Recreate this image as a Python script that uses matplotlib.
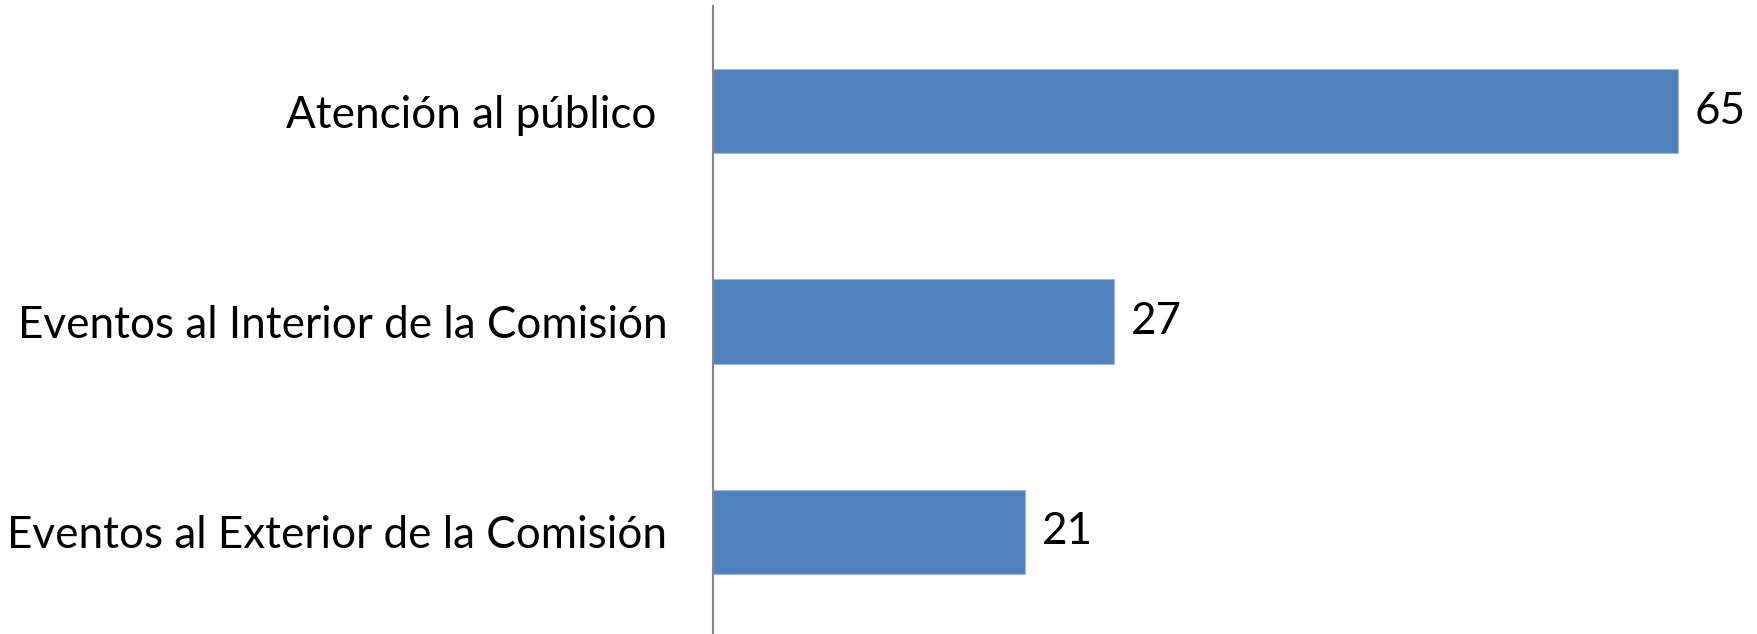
import matplotlib
matplotlib.use('Agg')
import matplotlib.pyplot as plt

plt.rcParams.update({'font.family': ['Lato', 'DejaVu Sans']})

categories = ['Atención al público ',
              'Eventos al Interior de la Comisión',
              'Eventos al Exterior de la Comisión']
values = [65, 27, 21]

W, H = 1758, 634
fig = plt.figure(figsize=(W / 100, H / 100), dpi=100)
# axes placed in pixel terms: x=0 at 713 px, 65 at 1678 px
x0, xmax = 713, 70
px_per = (1678 - x0) / 65
ax_top, ax_h = 5.75, 631.5
ax = fig.add_axes([x0 / W, (H - ax_top - ax_h) / H,
                   xmax * px_per / W, ax_h / H])

ypos = list(range(len(categories)))
ax.barh(ypos, values, height=0.4, color='#4F81BD', edgecolor='#9DB8DC',
        linewidth=0.8)
for y, v in zip(ypos, values):
    ax.text(v + 17 / px_per, y, str(v), va='center', ha='left',
            fontsize=31.7, color='black')

ax.set_ylim(2.5, -0.5)
ax.set_xlim(0, xmax)
ax.set_yticks(ypos)
ax.set_yticklabels(categories, fontsize=31.7)
ax.tick_params(axis='y', length=0, pad=33)
ax.set_xticks([])
for s in ['top', 'right', 'bottom']:
    ax.spines[s].set_visible(False)
ax.spines['left'].set_color('#868686')
ax.spines['left'].set_linewidth(1.5)

fig.savefig('out.png', dpi=100)
